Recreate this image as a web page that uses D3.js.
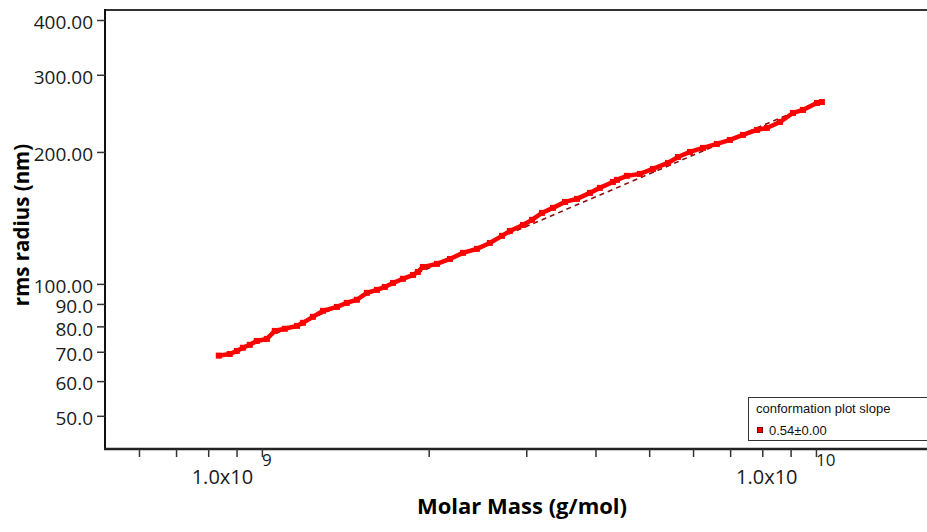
<!DOCTYPE html>
<html><head><meta charset="utf-8">
<script src="https://cdn.jsdelivr.net/npm/d3@7"></script>
<style>body{margin:0;background:#fff;} svg{display:block}</style>
</head>
<body><svg id="c" width="927" height="532"></svg>
<script>
// Data (g/mol, nm)
const molarMass = [0.836e9,0.875e9,0.901e9,0.924e9,0.951e9,0.979e9,1.021e9,1.055e9,1.100e9,1.157e9,
  1.186e9,1.236e9,1.289e9,1.366e9,1.423e9,1.484e9,1.547e9,1.613e9,1.667e9,1.724e9,
  1.797e9,1.874e9,1.912e9,1.952e9,2.070e9,2.185e9,2.306e9,2.444e9,2.579e9,2.712e9,
  2.803e9,2.959e9,3.072e9,3.202e9,3.352e9,3.524e9,3.704e9,3.909e9,4.074e9,4.300e9,
  4.373e9,4.558e9,4.811e9,5.078e9,5.406e9,5.635e9,5.924e9,6.253e9,6.626e9,6.994e9,
  7.382e9,7.825e9,8.155e9,8.610e9,9.090e9,9.474e9,10.04e9,10.25e9];
const rmsRadius = [68.6,69.2,70.3,71.5,72.6,74.1,74.9,78.1,79.0,80.2,
  81.5,84.1,86.8,88.6,90.5,92.0,95.4,96.9,98.4,100.5,
  102.7,104.8,106.5,109.3,111.1,114.0,117.7,120.2,124.0,128.7,
  132.1,136.3,140.0,145.2,149.1,153.8,156.3,161.3,165.6,170.8,
  172.7,176.4,178.2,182.9,188.8,194.8,200.0,204.3,208.6,213.0,
  218.7,224.5,226.9,234.1,245.5,249.4,258.7,260.0];
const fitMass = [0.836e9, 10.25e9];
const fitRadius = [67.8, 262.5];
const yTickValues = [50,60,70,80,90,100,200,300,400];
const yTickLabels = ["50.0","60.0","70.0","80.0","90.0","100.00","200.00","300.00","400.00"];
const xTickValues = [6e8,7e8,8e8,9e8,1e9,2e9,3e9,4e9,5e9,6e9,7e9,8e9,9e9,1e10];
const xLabelValues = [1e9,1e10];
const xLabelMantissa = ["1.0x10","1.0x10"];
const xLabelExponent = ["9","10"];
const legendTitle = "conformation plot slope";
const legendEntry = "0.54\u00b10.00";
const xTitle = "Molar Mass (g/mol)";
const yTitle = "rms radius (nm)";

const svg = d3.select('#c');
const L=105, T=10, R=935, B=449;
const x = d3.scaleLog().domain([5.21e8,1.64e10]).range([L,R]);
const y = d3.scaleLog().domain([42.0,421.6]).range([B,T]);
const font = "'Open Sans', sans-serif";

// Fit line (dashed)
svg.append('path')
  .datum(fitMass.map((m,i)=>({m, r:fitRadius[i]})))
  .attr('d', d3.line().x(d=>x(d.m)).y(d=>y(d.r)))
  .attr('fill','none').attr('stroke','#8b1010').attr('stroke-width',1.6)
  .attr('stroke-dasharray','5,4');

// Data
const pts = molarMass.map((m,i)=>({m, r:rmsRadius[i]}));
svg.append('path').datum(pts)
  .attr('d', d3.line().x(d=>x(d.m)).y(d=>y(d.r)))
  .attr('fill','none').attr('stroke','#ff0000').attr('stroke-width',4.5);
svg.append('g').selectAll('rect').data(pts).join('rect')
  .attr('x', d=>x(d.m)-3).attr('y', d=>y(d.r)-3)
  .attr('width',6).attr('height',6).attr('fill','#ff0000');

// Frame
svg.append('line').attr('x1',L).attr('x2',R).attr('y1',T).attr('y2',T)
  .attr('stroke','#333').attr('stroke-width',2);
svg.append('line').attr('x1',L).attr('x2',L).attr('y1',T-1).attr('y2',B+1)
  .attr('stroke','#111').attr('stroke-width',2);
svg.append('line').attr('x1',L-1).attr('x2',R).attr('y1',B).attr('y2',B)
  .attr('stroke','#222').attr('stroke-width',2.5);

// Y axis
const ya = svg.append('g').attr('transform',`translate(${L},0)`)
  .call(d3.axisLeft(y).tickValues(yTickValues).tickFormat((d,i)=>yTickLabels[i]).tickSize(8).tickPadding(4).tickSizeOuter(0));
ya.select('.domain').remove();
ya.selectAll('.tick line').attr('stroke','#333').attr('stroke-width',1.5);
ya.selectAll('.tick text').attr('font-family',font).attr('font-size',19).attr('fill','#1a1a1a').attr('dy','0.46em');

// X axis
const xa = svg.append('g').attr('transform',`translate(0,${B})`)
  .call(d3.axisBottom(x).tickValues(xTickValues).tickFormat('').tickSize(8).tickSizeOuter(0));
xa.select('.domain').remove();
xa.selectAll('.tick line').attr('stroke','#333').attr('stroke-width',1.5);

xLabelValues.forEach((v,i)=>{
  const sup = svg.append('text').attr('x',x(v)).attr('y',466)
    .attr('font-family',font).attr('font-size',17).attr('fill','#1a1a1a')
    .text(xLabelExponent[i]);
  const w = sup.node().getComputedTextLength();
  svg.append('text').attr('x',x(v)-w+1).attr('y',484).attr('text-anchor','end')
    .attr('font-family',font).attr('font-size',20).attr('fill','#1a1a1a')
    .text(xLabelMantissa[i]);
});

// Titles
svg.append('text').attr('transform','translate(29,225) rotate(-90)')
  .attr('text-anchor','middle').attr('font-family',font).attr('font-weight','bold')
  .attr('font-size',20.5).attr('fill','#000').text(yTitle);
svg.append('text').attr('x',522).attr('y',514).attr('text-anchor','middle')
  .attr('font-family',font).attr('font-weight','bold').attr('font-size',22)
  .attr('fill','#000').text(xTitle);

// Legend
svg.append('rect').attr('x',748.5).attr('y',397.5).attr('width',200).attr('height',43)
  .attr('fill','#fff').attr('stroke','#333').attr('stroke-width',1);
svg.append('text').attr('x',756).attr('y',413).attr('font-family',"'Liberation Sans', Arial, sans-serif")
  .attr('font-size',13).attr('fill','#111').text(legendTitle);
svg.append('rect').attr('x',757.5).attr('y',427.5).attr('width',5).attr('height',5)
  .attr('fill','#ff0000').attr('stroke','#700').attr('stroke-width',1);
svg.append('text').attr('x',769).attr('y',435).attr('font-family',"'Liberation Sans', Arial, sans-serif")
  .attr('font-size',13).attr('fill','#111').text(legendEntry);
</script>
</body></html>
